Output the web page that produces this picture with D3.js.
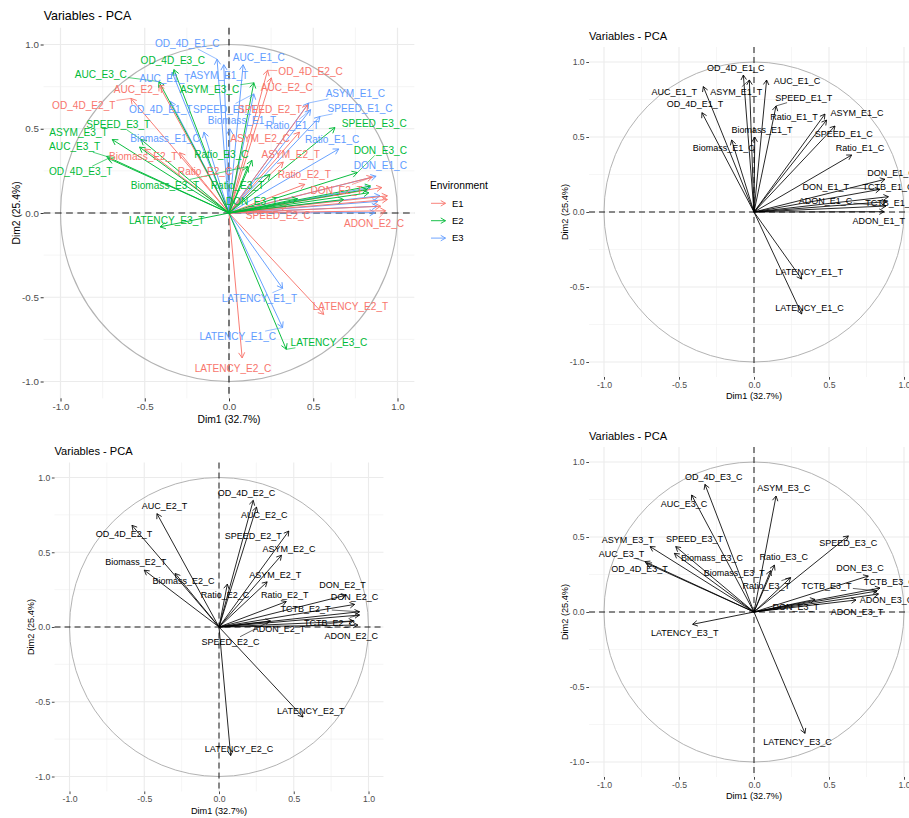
<!DOCTYPE html>
<html><head><meta charset="utf-8">
<script src="https://cdn.jsdelivr.net/npm/d3@7"></script>
<style>
body{margin:0;background:#fff}
svg{display:block}
text{font-family:"Liberation Sans",Arial,Helvetica,sans-serif}
</style>
</head><body>
<svg id="chart" width="909" height="818"></svg>
<script>
// ---------------- DATA ----------------
const variables = [
 "OD_4D_E1_C","OD_4D_E1_T","AUC_E1_C","AUC_E1_T","ASYM_E1_C","ASYM_E1_T","SPEED_E1_C","SPEED_E1_T","Biomass_E1_C","Biomass_E1_T",
 "Ratio_E1_C","Ratio_E1_T","DON_E1_C","DON_E1_T","TCTB_E1_C","TCTB_E1_T","ADON_E1_C","ADON_E1_T","LATENCY_E1_C","LATENCY_E1_T",
 "OD_4D_E2_C","OD_4D_E2_T","AUC_E2_C","AUC_E2_T","ASYM_E2_C","ASYM_E2_T","SPEED_E2_C","SPEED_E2_T","Biomass_E2_C","Biomass_E2_T",
 "Ratio_E2_C","Ratio_E2_T","DON_E2_C","DON_E2_T","TCTB_E2_C","TCTB_E2_T","ADON_E2_C","ADON_E2_T","LATENCY_E2_C","LATENCY_E2_T",
 "OD_4D_E3_C","OD_4D_E3_T","AUC_E3_C","AUC_E3_T","ASYM_E3_C","ASYM_E3_T","SPEED_E3_C","SPEED_E3_T","Biomass_E3_C","Biomass_E3_T",
 "Ratio_E3_C","Ratio_E3_T","DON_E3_C","DON_E3_T","TCTB_E3_C","TCTB_E3_T","ADON_E3_C","ADON_E3_T","LATENCY_E3_C","LATENCY_E3_T"
];
const dim1 = [
 -0.071,-0.347, 0.084,-0.338, 0.473,-0.031, 0.540, 0.147,-0.149, 0.005,
  0.651, 0.484, 0.873, 0.840, 0.896, 0.884, 0.880, 0.867, 0.318, 0.318,
  0.229,-0.582, 0.251,-0.415, 0.418, 0.322, 0.344, 0.467,-0.293,-0.500,
  0.056, 0.450, 0.907, 0.850, 0.940, 0.940, 0.929, 0.900, 0.078, 0.562,
 -0.327,-0.716,-0.416,-0.727, 0.147,-0.693, 0.629,-0.522,-0.531, 0.111,
  0.136, 0.244, 0.762, 0.407, 0.840, 0.820, 0.830, 0.680, 0.340,-0.409
];
const dim2 = [
  0.913, 0.662, 0.880, 0.836, 0.653, 0.880, 0.573, 0.707, 0.480, 0.500,
  0.380, 0.613, 0.218, 0.151, 0.102, 0.069, 0.040, 0.002,-0.680,-0.447,
  0.847, 0.680, 0.802, 0.758, 0.480, 0.302, 0.040, 0.642, 0.358, 0.380,
  0.287, 0.170, 0.151, 0.213, 0.080, 0.102, 0.013, 0.040,-0.860,-0.602,
  0.851, 0.324, 0.780, 0.336, 0.773, 0.436, 0.507, 0.436, 0.391, 0.276,
  0.313, 0.229, 0.240, 0.084, 0.160, 0.140, 0.120, 0.080,-0.809,-0.082
];
const legendGroups = ["E1","E2","E3"];
const legendColors = ["#F8766D","#00BA38","#619CFF"];
// legend group assigned to each environment's variables (as in the original figure)
const groupOfEnv = {E1:"E3", E2:"E1", E3:"E2"};
const tickValues = [-1.0,-0.5,0.0,0.5,1.0];
const minorValues = [-0.75,-0.25,0.25,0.75];
const titleText = "Variables - PCA";
const xTitleText = "Dim1 (32.7%)";
const yTitleText = "Dim2 (25.4%)";
const legendTitle = "Environment";

// ---------------- LAYOUT (label placement, data units) ----------------
const labelsAll = {
 "OD_4D_E1_C":[-0.248,1.007],"AUC_E1_T":[-0.38,0.799],"ASYM_E1_T":[-0.059,0.819],"OD_4D_E1_T":[-0.405,0.615],
 "SPEED_E1_T":[-0.024,0.617],"Biomass_E1_T":[0.077,0.552],"Biomass_E1_C":[-0.38,0.443],"AUC_E1_C":[0.177,0.924],
 "ASYM_E1_C":[0.75,0.71],"SPEED_E1_C":[0.778,0.621],"Ratio_E1_T":[0.377,0.522],"Ratio_E1_C":[0.612,0.437],
 "DON_E1_C":[0.898,0.285],"LATENCY_E1_T":[0.181,-0.506],"LATENCY_E1_C":[0.052,-0.734],
 "OD_4D_E2_T":[-0.862,0.641],"AUC_E2_T":[-0.533,0.734],"Biomass_E2_T":[-0.509,0.338],"Ratio_E2_C":[-0.142,0.249],
 "OD_4D_E2_C":[0.484,0.839],"AUC_E2_C":[0.343,0.746],"SPEED_E2_T":[0.243,0.617],"ASYM_E2_C":[0.184,0.443],
 "ASYM_E2_T":[0.366,0.348],"Ratio_E2_T":[0.447,0.226],"DON_E2_T":[0.639,0.136],"SPEED_E2_C":[0.293,-0.012],
 "ADON_E2_C":[0.861,-0.061],"LATENCY_E2_T":[0.721,-0.556],"LATENCY_E2_C":[0.024,-0.922],
 "OD_4D_E3_C":[-0.333,0.904],"AUC_E3_C":[-0.761,0.825],"ASYM_E3_C":[-0.115,0.734],"SPEED_E3_T":[-0.657,0.528],
 "ASYM_E3_T":[-0.893,0.477],"AUC_E3_T":[-0.916,0.394],"OD_4D_E3_T":[-0.88,0.245],"Ratio_E3_C":[-0.045,0.35],
 "Biomass_E3_T":[-0.38,0.166],"Ratio_E3_T":[0.05,0.166],"SPEED_E3_C":[0.862,0.532],"DON_E3_C":[0.898,0.374],
 "DON_E3_T":[0.136,0.071],"LATENCY_E3_T":[-0.37,-0.042],"LATENCY_E3_C":[0.593,-0.767]
};
const labelsE1 = {
 "OD_4D_E1_C":[-0.122,0.962],"AUC_E1_C":[0.287,0.873],"AUC_E1_T":[-0.531,0.802],"ASYM_E1_T":[-0.118,0.802],
 "SPEED_E1_T":[0.331,0.762],"OD_4D_E1_T":[-0.393,0.718],"Ratio_E1_T":[0.267,0.636],"ASYM_E1_C":[0.687,0.664],
 "Biomass_E1_T":[0.053,0.547],"SPEED_E1_C":[0.598,0.52],"Biomass_E1_C":[-0.202,0.429],"Ratio_E1_C":[0.707,0.429],
 "DON_E1_C":[0.913,0.262],"DON_E1_T":[0.478,0.169],"TCTB_E1_C":[0.893,0.169],"ADON_E1_C":[0.476,0.076],
 "TCTB_E1_T":[0.909,0.058],"ADON_E1_T":[0.831,-0.058],"LATENCY_E1_T":[0.368,-0.402],"LATENCY_E1_C":[0.37,-0.636]
};
const labelsE2 = {
 "AUC_E2_T":[-0.365,0.813],"OD_4D_E2_T":[-0.635,0.624],"Biomass_E2_T":[-0.557,0.436],"Biomass_E2_C":[-0.238,0.309],
 "Ratio_E2_C":[0.04,0.218],"OD_4D_E2_C":[0.184,0.896],"AUC_E2_C":[0.303,0.747],"SPEED_E2_T":[0.229,0.613],
 "ASYM_E2_C":[0.468,0.524],"ASYM_E2_T":[0.377,0.347],"Ratio_E2_T":[0.44,0.213],"DON_E2_T":[0.826,0.28],
 "DON_E2_C":[0.907,0.202],"TCTB_E2_T":[0.579,0.124],"TCTB_E2_C":[0.74,0.031],"ADON_E2_T":[0.401,-0.013],
 "ADON_E2_C":[0.884,-0.058],"SPEED_E2_C":[0.077,-0.098],"LATENCY_E2_T":[0.614,-0.558],"LATENCY_E2_C":[0.134,-0.816]
};
const labelsE3 = {
 "OD_4D_E3_C":[-0.268,0.902],"ASYM_E3_C":[0.199,0.829],"AUC_E3_C":[-0.466,0.724],"ASYM_E3_T":[-0.841,0.484],
 "SPEED_E3_T":[-0.397,0.487],"SPEED_E3_C":[0.629,0.458],"AUC_E3_T":[-0.884,0.391],"Biomass_E3_C":[-0.28,0.358],
 "Ratio_E3_C":[0.199,0.369],"OD_4D_E3_T":[-0.763,0.291],"DON_E3_C":[0.707,0.296],"Biomass_E3_T":[-0.132,0.264],
 "TCTB_E3_C":[0.902,0.202],"Ratio_E3_T":[0.082,0.176],"TCTB_E3_T":[0.484,0.176],"ADON_E3_C":[0.883,0.08],
 "DON_E3_T":[0.279,0.036],"ADON_E3_T":[0.687,-0.002],"LATENCY_E3_T":[-0.462,-0.138],"LATENCY_E3_C":[0.29,-0.864]
};

const panels = [
 {ox:229, oy:213, s:168.5, k:1.123, env:null, labels:labelsAll, colored:true, legend:true},
 {ox:754, oy:212, s:150, k:1, env:"E1", labels:labelsE1},
 {ox:219, oy:627, s:149.5, k:1, env:"E2", labels:labelsE2},
 {ox:754, oy:612, s:150, k:1, env:"E3", labels:labelsE3}
];

// ---------------- DRAW ----------------
const svg = d3.select("#chart");
svg.append("rect").attr("width",909).attr("height",818).attr("fill","#fff");
const colorScale = d3.scaleOrdinal().domain(legendGroups).range(legendColors);
const envOf = name => name.match(/_(E\d)_/)[1];
const rows = variables.map((v,i)=>({name:v, d1:dim1[i], d2:dim2[i], env:envOf(v)}));

function arrowHead(x1,y1,x2,y2,L){
  const a = Math.atan2(y2-y1,x2-x1), w = Math.PI/6;
  const p1=[x2-L*Math.cos(a-w), y2-L*Math.sin(a-w)];
  const p2=[x2-L*Math.cos(a+w), y2-L*Math.sin(a+w)];
  return `M${p1[0]},${p1[1]}L${x2},${y2}L${p2[0]},${p2[1]}`;
}

function drawPanel(cfg){
  const {ox,oy,s,k} = cfg;
  const g = svg.append("g");
  const x = d3.scaleLinear().domain([-1.1,1.1]).range([ox-1.1*s, ox+1.1*s]);
  const y = d3.scaleLinear().domain([-1.1,1.1]).range([oy+1.1*s, oy-1.1*s]);
  const [x0,x1] = x.range(), [y0,y1] = [y(1.1), y(-1.1)];

  // grid
  const grid = g.append("g");
  minorValues.forEach(v=>{
    grid.append("line").attr("x1",x(v)).attr("x2",x(v)).attr("y1",y0).attr("y2",y1).attr("stroke","#F0F0F0").attr("stroke-width",0.6*k);
    grid.append("line").attr("y1",y(v)).attr("y2",y(v)).attr("x1",x0).attr("x2",x1).attr("stroke","#F0F0F0").attr("stroke-width",0.6*k);
  });
  tickValues.forEach(v=>{
    grid.append("line").attr("x1",x(v)).attr("x2",x(v)).attr("y1",y0).attr("y2",y1).attr("stroke","#EBEBEB").attr("stroke-width",1.1*k);
    grid.append("line").attr("y1",y(v)).attr("y2",y(v)).attr("x1",x0).attr("x2",x1).attr("stroke","#EBEBEB").attr("stroke-width",1.1*k);
  });

  // correlation circle
  g.append("circle").attr("cx",x(0)).attr("cy",y(0)).attr("r",x(1)-x(0))
    .attr("fill","none").attr("stroke","#B3B3B3").attr("stroke-width",1*k);

  // reference dashed lines
  g.append("line").attr("x1",x0).attr("x2",x1).attr("y1",y(0)).attr("y2",y(0))
    .attr("stroke","#1a1a1a").attr("stroke-width",1*k).attr("stroke-dasharray",`${6*k},${4*k}`);
  g.append("line").attr("x1",x(0)).attr("x2",x(0)).attr("y1",y0).attr("y2",y1)
    .attr("stroke","#1a1a1a").attr("stroke-width",1*k).attr("stroke-dasharray",`${6*k},${4*k}`);

  const data = rows.filter(r=> cfg.env===null || r.env===cfg.env);
  const col = r => cfg.colored ? colorScale(groupOfEnv[r.env]) : "#000";

  // arrows
  const ar = g.append("g").attr("fill","none").attr("stroke-width",0.85*k);
  data.forEach(r=>{
    ar.append("line").attr("x1",x(0)).attr("y1",y(0)).attr("x2",x(r.d1)).attr("y2",y(r.d2)).attr("stroke",col(r));
    ar.append("path").attr("d",arrowHead(x(0),y(0),x(r.d1),y(r.d2),5.5*k)).attr("stroke",col(r));
  });

  // labels (with repel-style segments)
  const fs = 9*k;
  const lg = g.append("g");
  data.forEach(r=>{
    const p = cfg.labels[r.name];
    if(!p) return;
    const t = lg.append("text").attr("x",x(p[0])).attr("y",y(p[1])+0.35*fs)
      .attr("text-anchor","middle").attr("font-size",fs).attr("fill",col(r)).text(r.name);
    const bb = t.node().getBBox();
    const cx = x(p[0]), cy = y(p[1]);
    const px = x(r.d1), py = y(r.d2);
    const hw = bb.width/2+1, hh = fs*0.55;
    const dx = px-cx, dy = py-cy;
    if(Math.abs(dx)<=hw && Math.abs(dy)<=hh) return;
    const tt = Math.min(hw/Math.max(Math.abs(dx),1e-9), hh/Math.max(Math.abs(dy),1e-9));
    const sx = cx+dx*tt, sy = cy+dy*tt;
    if(Math.hypot(px-sx,py-sy) > 8*k){
      lg.insert("line","text").attr("x1",sx).attr("y1",sy).attr("x2",px).attr("y2",py)
        .attr("stroke",col(r)).attr("stroke-width",0.6*k);
    }
  });

  // axes
  const fmt = d => d.toFixed(1);
  const xa = g.append("g").attr("transform",`translate(0,${y1})`)
    .call(d3.axisBottom(x).tickValues(tickValues).tickFormat(fmt).tickSize(2.7*k).tickPadding(1.8*k));
  const ya = g.append("g").attr("transform",`translate(${x0},0)`)
    .call(d3.axisLeft(y).tickValues(tickValues).tickFormat(fmt).tickSize(2.7*k).tickPadding(1.6*k));
  [xa,ya].forEach(a=>{
    a.select(".domain").remove();
    a.selectAll(".tick line").attr("stroke","#333").attr("stroke-width",0.9*k);
    a.selectAll(".tick text").attr("fill","#4D4D4D").attr("font-size",8.7*k)
      .attr("font-family","Liberation Sans, Arial, sans-serif");
  });

  // titles
  const tfs = 9.2*k;
  g.append("text").attr("x",x(0)).attr("y",y1+19*k+0.35*tfs).attr("text-anchor","middle")
    .attr("font-size",tfs).attr("fill","#000").text(xTitleText);
  g.append("text").attr("transform",`translate(${x0-24*k+0.35*tfs},${y(0)}) rotate(-90)`)
    .attr("text-anchor","middle").attr("font-size",tfs).attr("fill","#000").text(yTitleText);
  const hfs = 11.1*k;
  g.append("text").attr("x",x0).attr("y",y0-11*k+0.35*hfs).attr("font-size",hfs).attr("fill","#000").text(titleText);

  if(cfg.legend){
    const lx = 430, ly = 185;
    const leg = g.append("g");
    leg.append("text").attr("x",lx).attr("y",ly+0.35*10.3).attr("font-size",10.3).attr("fill","#000").text(legendTitle);
    legendGroups.forEach((gr,i)=>{
      const yy = ly+18.3+i*17.4;
      leg.append("line").attr("x1",lx+1).attr("x2",lx+15.5).attr("y1",yy).attr("y2",yy)
        .attr("stroke",colorScale(gr)).attr("stroke-width",0.9);
      leg.append("path").attr("d",arrowHead(lx+1,yy,lx+15.5,yy,5.5)).attr("fill","none")
        .attr("stroke",colorScale(gr)).attr("stroke-width",0.9);
      leg.append("text").attr("x",lx+22).attr("y",yy+0.35*9.5).attr("font-size",9.5).attr("fill","#000").text(gr);
    });
  }
}
panels.forEach(drawPanel);
</script>
</body></html>
